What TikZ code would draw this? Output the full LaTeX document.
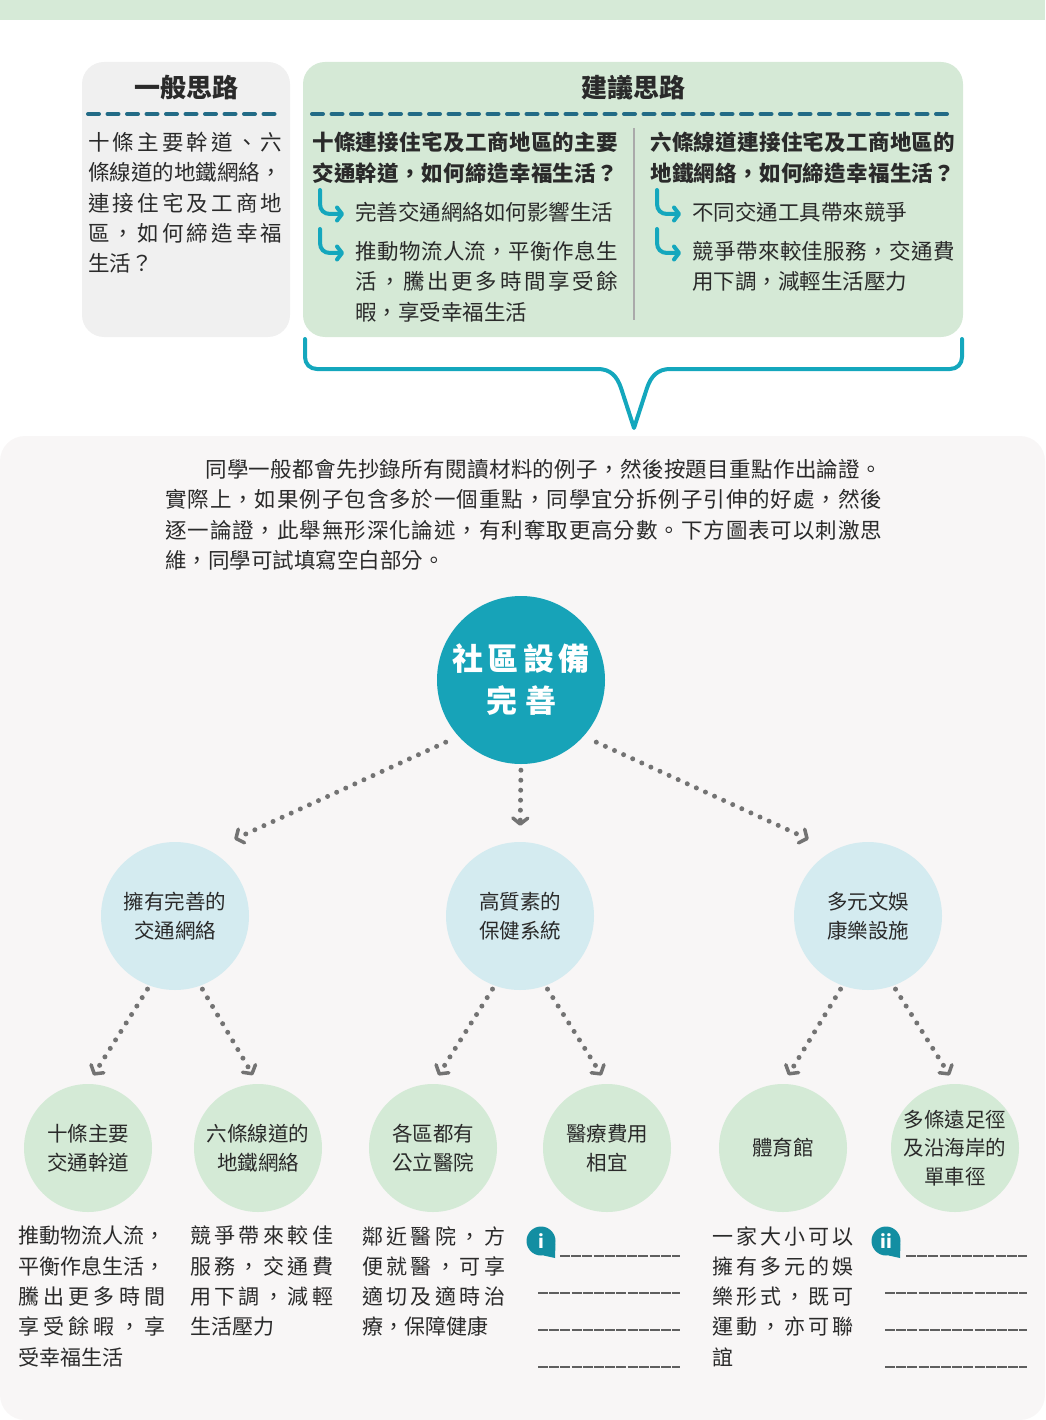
\documentclass[tikz,border=0pt]{standalone}
\usepackage{fontspec}
\setmainfont{Noto Sans CJK TC}
\usetikzlibrary{arrows.meta}

\definecolor{bandgreen}{HTML}{D6EAD7}
\definecolor{boxgrey}{HTML}{F0F0F0}
\definecolor{boxgreen}{HTML}{D5E9D6}
\definecolor{rulecol}{HTML}{226B86}
\definecolor{tealc}{HTML}{14A7BD}
\definecolor{hubcol}{HTML}{17A3B8}
\definecolor{panel}{HTML}{F8F6F6}
\definecolor{midcol}{HTML}{D4EBF0}
\definecolor{leafcol}{HTML}{D4EAD6}
\definecolor{dotcol}{HTML}{737373}
\definecolor{ink}{HTML}{2A2A2A}
\definecolor{badgecol}{HTML}{138EA2}

\ExplSyntaxOn
\NewDocumentCommand\spreadto{mm}{\hbox~to~#1{\tl_map_inline:nn{#2}{##1\hfil}\unskip}}
\ExplSyntaxOff

\begin{document}
\begin{tikzpicture}[x=1pt, y=-1pt,
  body/.style={inner sep=0pt, anchor=north west, align=left, text=ink, font=\fontsize{21.5}{30.3}\selectfont},
  colnote/.style={body, font=\fontsize{21}{30.3}\selectfont},
  boxtitle/.style={inner sep=0pt, text=ink, font=\fontsize{26}{30}\selectfont\bfseries},
  dashrule/.style={rulecol, line width=4pt, line cap=round, dash pattern=on 11pt off 8.5pt},
  hub/.style={circle, fill=hubcol, minimum size=168pt, inner sep=0pt, align=center, text=white, font=\fontsize{31}{42}\selectfont\bfseries},
  mid/.style={circle, fill=midcol, minimum size=148pt, inner sep=0pt, align=center, text=ink, font=\fontsize{20.5}{29.5}\selectfont},
  leaf/.style={circle, fill=leafcol, minimum size=128pt, inner sep=0pt, align=center, text=ink, font=\fontsize{20.5}{28.5}\selectfont},
  dotarrow/.style={dotcol, line width=5pt, line cap=round, dash pattern=on 0pt off 10pt, -{Straight Barb[length=6pt, width=15pt, line width=3.5pt, round]}},
  badge/.style={circle, fill=badgecol, minimum size=29pt, inner sep=0pt, text=white, font=\fontsize{18}{18}\selectfont\bfseries},
  fillline/.style={ink!75, line width=1.1pt, dash pattern=on 10pt off 1.2pt},
  turnarrow/.pic={\draw[tealc, line width=4pt, line cap=round, -{Straight Barb[length=5pt, width=13pt, round]}] (0,0) -- (0,14) .. controls (0,20) and (4,24) .. (10,24) -- (24,24);}
]
\useasboundingbox (0,0) rectangle (1045,1420);
\fill[bandgreen] (0,0) rectangle (1045,20);

\fill[boxgrey, rounded corners=22pt] (82,62) rectangle (290,337);
\fill[boxgreen, rounded corners=22pt] (303,62) rectangle (963,337);
\node[boxtitle] (gen) at (186,88) {一般思路};
\node[boxtitle] (sug) at (633,88) {建議思路};
\draw[dashrule] (88,114) -- (282,114);
\draw[dashrule] (312,114) -- (955,114);
\draw[ink!40, line width=1.2pt] (634,128) -- (634,320);

\node[body] (gentxt) at (88,132) {\spreadto{194pt}{十條主要幹道、六}\\條線道的地鐵網絡，\\\spreadto{194pt}{連接住宅及工商地}\\\spreadto{194pt}{區，如何締造幸福}\\生活？};

\node[body, font=\fontsize{21.5}{30.3}\selectfont\bfseries] (qa) at (312,132) {\spreadto{306pt}{十條連接住宅及工商地區的主要}\\\spreadto{306pt}{交通幹道，如何締造幸福生活？}};
\pic at (320,190) {turnarrow};
\node[body, anchor=west] (qa1) at (355,212) {完善交通網絡如何影響生活};
\pic at (320,229) {turnarrow};
\node[body] (qa2) at (355,241) {\spreadto{263pt}{推動物流人流，平衡作息生}\\\spreadto{263pt}{活，騰出更多時間享受餘}\\暇，享受幸福生活};

\node[body, font=\fontsize{21.5}{30.3}\selectfont\bfseries] (qb) at (650,132) {\spreadto{305pt}{六條線道連接住宅及工商地區的}\\\spreadto{305pt}{地鐵網絡，如何締造幸福生活？}};
\pic at (657,190) {turnarrow};
\node[body, anchor=west] (qb1) at (692,212) {不同交通工具帶來競爭};
\pic at (657,229) {turnarrow};
\node[body] (qb2) at (692,241) {\spreadto{263pt}{競爭帶來較佳服務，交通費}\\用下調，減輕生活壓力};

\draw[tealc, line width=4pt, line cap=round, line join=round] (305,339) -- (305,357) .. controls (305,364) and (310,369) .. (317,369) -- (598,369) .. controls (610,369) and (617,376) .. (621,388) -- (634,428) -- (647,388) .. controls (651,376) and (658,369) .. (670,369) -- (950,369) .. controls (957,369) and (962,364) .. (962,357) -- (962,339);

\fill[panel, rounded corners=25pt] (0,436) rectangle (1045,1420);

\node[body] (intro) at (165,459) {\hspace*{40pt}\spreadto{677pt}{同學一般都會先抄錄所有閱讀材料的例子，然後按題目重點作出論證。}\\\spreadto{717pt}{實際上，如果例子包含多於一個重點，同學宜分拆例子引伸的好處，然後}\\\spreadto{717pt}{逐一論證，此舉無形深化論述，有利奪取更高分數。下方圖表可以刺激思}\\維，同學可試填寫空白部分。};

\node[hub] (hub) at (521,680) {\spreadto{137pt}{社區設備}\\\spreadto{70pt}{完善}};

\node[mid] (tr) at (175,916) {擁有完善的\\交通網絡};
\node[mid] (hc) at (520,916) {高質素的\\保健系統};
\node[mid] (cu) at (868,916) {多元文娛\\康樂設施};

\node[leaf] (rd) at (88,1148) {十條主要\\交通幹道};
\node[leaf] (mt) at (258,1148) {六條線道的\\地鐵網絡};
\node[leaf] (ph) at (433,1148) {各區都有\\公立醫院};
\node[leaf] (fe) at (607,1148) {醫療費用\\相宜};
\node[leaf] (sp) at (783,1148) {體育館};
\node[leaf] (cy) at (955,1148) {多條遠足徑\\及沿海岸的\\單車徑};

\draw[dotarrow, shorten <=14pt, shorten >=27pt] (hub.222) -- (tr.62);
\draw[dotarrow, shorten <=6pt, shorten >=16pt] (hub.south) -- (hc.north);
\draw[dotarrow, shorten <=14pt, shorten >=27pt] (hub.318) -- (cu.118);
\draw[dotarrow, shorten <=4pt, shorten >=10pt] (tr.250) -- (rd.north);
\draw[dotarrow, shorten <=4pt, shorten >=10pt] (tr.290) -- (mt.north);
\draw[dotarrow, shorten <=4pt, shorten >=10pt] (hc.250) -- (ph.north);
\draw[dotarrow, shorten <=4pt, shorten >=10pt] (hc.290) -- (fe.north);
\draw[dotarrow, shorten <=4pt, shorten >=10pt] (cu.250) -- (sp.north);
\draw[dotarrow, shorten <=4pt, shorten >=10pt] (cu.290) -- (cy.north);

\node[colnote] (rdtxt) at (18,1226) {推動物流人流，\\平衡作息生活，\\\spreadto{147pt}{騰出更多時間}\\\spreadto{147pt}{享受餘暇，享}\\受幸福生活};
\node[colnote] (mttxt) at (190,1226) {\spreadto{143pt}{競爭帶來較佳}\\\spreadto{143pt}{服務，交通費}\\\spreadto{143pt}{用下調，減輕}\\生活壓力};
\node[colnote] (phtxt) at (362,1226) {\spreadto{143pt}{鄰近醫院，方}\\\spreadto{143pt}{便就醫，可享}\\\spreadto{143pt}{適切及適時治}\\療，保障健康};
\node[colnote] (sptxt) at (712,1226) {\spreadto{141pt}{一家大小可以}\\\spreadto{141pt}{擁有多元的娛}\\\spreadto{141pt}{樂形式，既可}\\\spreadto{141pt}{運動，亦可聯}\\誼};

\node[badge] (bi) at (541,1241) {i};
\fill[badgecol] (bi.-10) -- (bi.-80) -- ([xshift=14pt, yshift=-17pt]bi.center) -- cycle;
\draw[fillline] (560,1256) -- (680,1256);
\draw[fillline] (538,1293) -- (680,1293);
\draw[fillline] (538,1330) -- (680,1330);
\draw[fillline] (538,1367) -- (680,1367);

\node[badge] (bii) at (886,1241) {ii};
\fill[badgecol] (bii.-10) -- (bii.-80) -- ([xshift=14pt, yshift=-17pt]bii.center) -- cycle;
\draw[fillline] (906,1256) -- (1027,1256);
\draw[fillline] (885,1293) -- (1027,1293);
\draw[fillline] (885,1330) -- (1027,1330);
\draw[fillline] (885,1367) -- (1027,1367);
\end{tikzpicture}
\end{document}
